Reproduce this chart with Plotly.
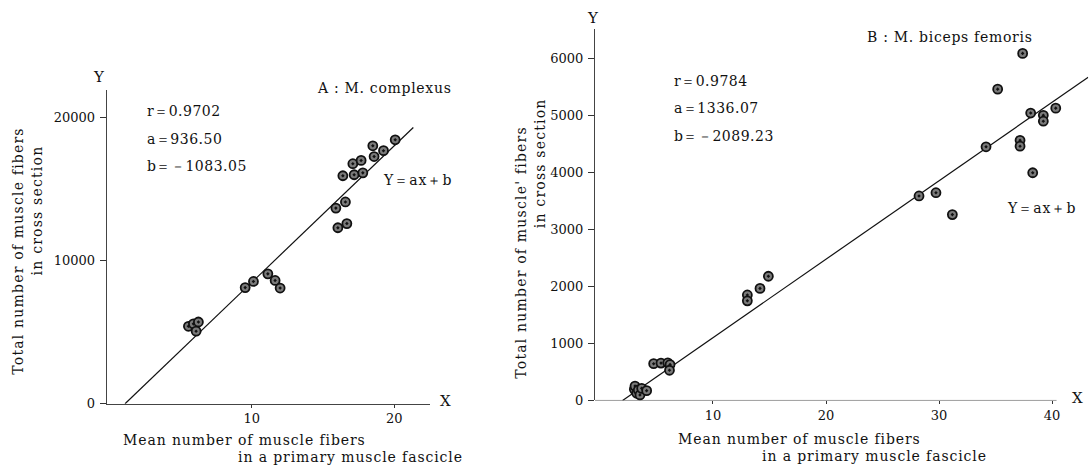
import plotly.graph_objects as go

# ---------------- data ----------------
A_X = [5.56, 5.91, 6.26, 6.10, 9.54, 10.12, 11.13, 11.64, 11.99, 15.90, 16.04,
       16.57, 16.67, 16.39, 17.18, 17.09, 17.67, 17.79, 18.49, 18.58, 19.24, 20.06]
A_Y = [5410, 5580, 5710, 5070, 8110, 8540, 9070, 8610, 8080, 13660, 12290,
       14090, 12580, 15920, 15990, 16760, 16990, 16120, 18010, 17260, 17670, 18430]
A_LINE_X = [1.115, 21.33]
A_LINE_SLOPE = 954.0
A_LINE_INTERCEPT = -1064.0
A_XTICKS = [10, 20]
A_YTICKS = [0, 10000, 20000]
A_YTICKTEXT = ["0", "10000", "20000"]

B_X = [3.04, 3.10, 3.25, 3.39, 3.54, 3.69, 4.13, 4.75, 5.40, 6.00, 6.20, 6.15,
       13.04, 13.04, 14.16, 14.90, 28.23, 29.73, 31.18, 34.16, 35.19, 37.40,
       37.17, 37.17, 38.11, 38.29, 39.23, 39.23, 40.33]
B_Y = [195, 252, 126, 183, 97, 212, 172, 645, 655, 660, 630, 530,
       1850, 1747, 1965, 2178, 3586, 3643, 3259, 4448, 5459, 6086,
       4562, 4459, 5040, 3993, 5000, 4897, 5126]
B_LINE_X = [2.0, 43.2]
B_LINE_SLOPE = 137.6
B_LINE_INTERCEPT = -275.0
B_XTICKS = [10, 20, 30, 40]
B_YTICKS = [0, 1000, 2000, 3000, 4000, 5000, 6000]
B_YTICKTEXT = ["0", "1000", "2000", "3000", "4000", "5000", "6000"]

A_STATS = ["r＝0.9702", "a＝936.50", "b＝－1083.05"]
B_STATS = ["r＝0.9784", "a＝1336.07", "b＝－2089.23"]

# ---------------- layout helpers ----------------
W, H = 1089, 476
FONT = "DejaVu Serif"
INK = "#111111"


def px(x):
    return x / W


def py(y):
    return 1 - y / H


def line_y(xs, slope, intercept):
    return [slope * x + intercept for x in xs]


def spaced(s, ls):
    return '<span style="letter-spacing:%.1fpx">%s</span>' % (ls, s)


marker = dict(symbol="circle-dot", size=9, color="#7a7a7a",
              line=dict(color="#111111", width=1.8))

fig = go.Figure()
fig.add_trace(go.Scatter(x=A_LINE_X, y=line_y(A_LINE_X, A_LINE_SLOPE, A_LINE_INTERCEPT),
                         mode="lines", line=dict(color=INK, width=1.2),
                         xaxis="x", yaxis="y", showlegend=False, hoverinfo="skip"))
fig.add_trace(go.Scatter(x=A_X, y=A_Y, mode="markers", marker=marker,
                         xaxis="x", yaxis="y", showlegend=False, cliponaxis=False))
fig.add_trace(go.Scatter(x=B_LINE_X, y=line_y(B_LINE_X, B_LINE_SLOPE, B_LINE_INTERCEPT),
                         mode="lines", line=dict(color=INK, width=1.2),
                         xaxis="x2", yaxis="y2", showlegend=False, hoverinfo="skip"))
fig.add_trace(go.Scatter(x=B_X, y=B_Y, mode="markers", marker=marker,
                         xaxis="x2", yaxis="y2", showlegend=False, cliponaxis=False))

tickfont = dict(family=FONT, size=13, color=INK)
axis_common = dict(showgrid=False, zeroline=False, ticks="outside", tickcolor="#333",
                   tickfont=tickfont, linecolor="#444", linewidth=1, fixedrange=True)

# panel A pixel frame
A_left, A_right, A_bottom, A_top = 106.7, 430.0, 410.7, 91.7
A_xr = [-0.17, 22.5]
A_yr = [0, 21894]
# panel B pixel frame
B_left, B_right, B_bottom, B_top = 595.0, 1088.2, 407.3, 30.0
B_xr = [-0.44, 43.2]
B_yr = [0, 6505]
B_XAXIS_END = 40.4

fig.update_layout(
    width=W, height=H,
    margin=dict(l=0, r=0, t=0, b=0),
    paper_bgcolor="white", plot_bgcolor="white",
    showlegend=False,
    xaxis=dict(domain=[px(A_left), px(A_right)], range=A_xr, tickvals=A_XTICKS,
               showline=True, ticklen=3, anchor="y", **axis_common),
    yaxis=dict(domain=[py(A_bottom), py(A_top)], range=A_yr, tickvals=A_YTICKS,
               ticktext=A_YTICKTEXT, showline=True, ticklen=6, ticklabelstandoff=2,
               anchor="x", **axis_common),
    xaxis2=dict(domain=[px(B_left), px(B_right)], range=B_xr, tickvals=B_XTICKS,
                showline=False, ticklen=3, anchor="y2", **axis_common),
    yaxis2=dict(domain=[py(B_bottom), py(B_top)], range=B_yr, tickvals=B_YTICKS,
                ticktext=B_YTICKTEXT, showline=True, ticklen=6, ticklabelstandoff=2,
                anchor="x2", **axis_common),
    shapes=[dict(type="line", xref="x2", yref="y2", x0=B_xr[0], x1=B_XAXIS_END,
                 y0=0, y1=0, line=dict(color="#444", width=1))],
)

ann = []


def text(x, y, s, size=14, xanchor="left", angle=0, ls=0.0):
    ann.append(dict(x=px(x), y=py(y), xref="paper", yref="paper",
                    text=spaced(s, ls) if ls else s,
                    showarrow=False, xanchor=xanchor, yanchor="middle",
                    textangle=angle, font=dict(family=FONT, size=size, color=INK)))


# Panel A texts
text(99, 78, "Y", size=15, xanchor="center")
text(445, 408, "X", size=15, xanchor="center")
text(315, 90, "A : M. complexus", ls=0.7)
text(381, 183, "Y＝ax＋b", ls=1.0)
for i, s in enumerate(A_STATS):
    text(145, 113 + i * 28, s, ls=0.5)
text(121, 448, "Mean number of muscle fibers", ls=0.9)
text(236, 465, "in a primary muscle fascicle", ls=0.9)
text(18, 256, "Total number of muscle fibers", xanchor="center", angle=-90, ls=1.2)
text(37, 214, "in cross section", xanchor="center", angle=-90, ls=1.2)

# Panel B texts
text(593, 18, "Y", size=15, xanchor="center")
text(1077, 405, "X", size=15, xanchor="center")
text(865, 38, "B : M. biceps femoris", ls=0.7)
text(1005, 212, "Y＝ax＋b", ls=1.0)
for i, s in enumerate(B_STATS):
    text(672, 82 + i * 28, s, ls=0.5)
text(676, 446, "Mean number of muscle fibers", ls=0.9)
text(760, 464, "in a primary muscle fascicle", ls=0.9)
text(521, 257, "Total number of muscle' fibers", xanchor="center", angle=-90, ls=1.2)
text(540, 166, "in cross section", xanchor="center", angle=-90, ls=1.2)

fig.update_layout(annotations=ann)
fig.write_html("out.html",
               config={"displayModeBar": False, "staticPlot": True},
               post_script="document.body.style.margin='0';"
                           "document.body.style.overflow='hidden';")
